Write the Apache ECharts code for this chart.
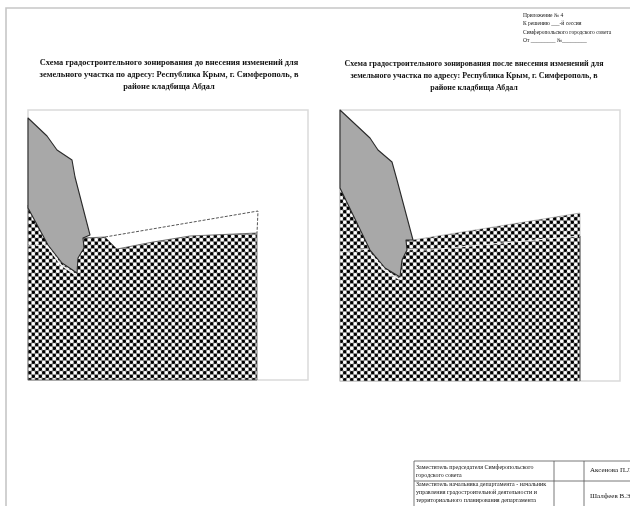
<!DOCTYPE html>
<html><head><meta charset="utf-8">
<style>html,body{margin:0;padding:0;background:#fff}#c{width:630px;height:506px;filter:blur(0.6px)}</style>
<script src="https://cdn.jsdelivr.net/npm/echarts@6/dist/echarts.min.js"></script>
</head><body><div id="c"></div>
<script>
// Outlines, in page pixels
const pageEdge = [[6,506],[6,8],[630,8]];
const leftFrame = [[28,110],[308,110],[308,380],[28,380]];
const leftZone = [[28,205],[28,380],[257,380],[257,233],[190,236],[153,242],[117,249],[105,237],[83,238],[70,240]];
const leftGrey = [[28,118],[47,136],[57,150],[72,160],[75,177],[90,235],[83,238],[84,248],[78,258],[77,273],[62,263],[48,245],[28,208]];
const leftHalo = [[48,247],[61,265],[76,275]];
const leftDash = [[105,237],[258,211],[257,233]];
const leftWhite = [[28,246],[50,245],[85,243]];
const rightFrame = [[340,110],[620,110],[620,381],[340,381]];
const rightZone = [[340,188],[340,381],[580,381],[580,213],[413,240],[380,240]];
const rightGrey = [[340,110],[370,138],[378,150],[392,162],[397,180],[413,240],[406,240],[407,250],[402,260],[400,277],[385,268],[370,250],[340,188]];
const rightHalo = [[370,253],[384,270],[399,279]];
const rightInner = [[340,252],[370,249],[430,250],[470,246],[580,236]];
const rightEdge = [[580,236],[580,381]];
const tableLines = [[[414,461],[630,461]],[[414,481],[630,481]],[[414,461],[414,506]],[[554,461],[554,506]],[[584,461],[584,506]]];

const titleLines = ['Схема градостроительного зонирования до внесения изменений для','земельного участка по адресу: Республика Крым, г. Симферополь, в','районе кладбища Абдал'];
const titleLines2 = ['Схема градостроительного зонирования после внесения изменений для','земельного участка по адресу: Республика Крым, г. Симферополь, в','районе кладбища Абдал'];
const noteLines = ['Приложение № 4','К решению ___-й сессии','Симферопольского городского совета','От _________ №_________'];
const tableText = ['Заместитель председателя Симферопольского','городского совета','Заместитель начальника департамента - начальник','управления градостроительной деятельности и','территориального планирования департамента'];
const tableNames = ['Аксенова П.Л.','Шалфеев В.Э.'];

function tile(){
  const c=document.createElement('canvas');c.width=7;c.height=7;
  const g=c.getContext('2d');g.fillStyle='#8c8c8c';g.fillRect(0,0,7,7);
  const dot=(x,y,col)=>{g.fillStyle=col;g.beginPath();g.arc(x,y,1.75,0,7);g.fill();};
  dot(1.75,1.75,'#000');dot(5.25,5.25,'#000');
  dot(5.25,1.75,'#fff');dot(1.75,5.25,'#fff');
  return c;
}
const pat={image:tile(),repeat:'repeat'};

function shape(pts,style,closed,z){
  return {type:'custom',coordinateSystem:'cartesian2d',silent:true,z:z,clip:false,
    data:pts,encode:{x:0,y:1},
    renderItem:(p,api)=>{
      if(p.dataIndex!==0) return null;
      const points=pts.map(q=>api.coord(q));
      return {type:closed?'polygon':'polyline',shape:{points},style:style};
    }};
}
const series=[
 shape(pageEdge,{fill:'none',stroke:'#c6c6c6',lineWidth:1.6},false,1),
 shape(leftFrame,{fill:'#fff',stroke:'#dadada',lineWidth:1.5},true,1),
 shape(rightFrame,{fill:'#fff',stroke:'#dadada',lineWidth:1.5},true,1),
 shape(leftZone,{fill:pat,stroke:'#666',lineWidth:0.9},true,2),
 shape(rightZone,{fill:pat,stroke:'#999',lineWidth:0.6},true,2),
 shape(rightEdge,{fill:'none',stroke:'#555',lineWidth:1},false,3),
 shape(leftHalo,{fill:'none',stroke:'#f2f2f2',lineWidth:1.6},false,3),
 shape(rightHalo,{fill:'none',stroke:'#f2f2f2',lineWidth:1.6},false,3),
 shape(leftWhite,{fill:'none',stroke:'#eee',lineWidth:1,lineDash:[6,2]},false,3),
 shape(rightInner,{fill:'none',stroke:'#eee',lineWidth:1,lineDash:[14,2]},false,3),
 shape(leftDash,{fill:'none',stroke:'#555',lineWidth:1,lineDash:[3,1.5]},false,3),
 shape(leftGrey,{fill:'#a8a8a8',stroke:'#2a2a2a',lineWidth:1.1,lineJoin:'round'},true,4),
 shape(rightGrey,{fill:'#a8a8a8',stroke:'#2a2a2a',lineWidth:1.1,lineJoin:'round'},true,4)
];
tableLines.forEach(l=>series.push(shape(l,{fill:'none',stroke:'#555',lineWidth:0.8},false,5)));

const serif='"Liberation Serif",serif';
const text=[];
const put=(s,x,y,size,bold,align)=>text.push({type:'text',x:x,y:y,z:10,silent:true,style:{text:s,fontFamily:serif,fontSize:size,fontWeight:bold?'bold':'normal',fill:'#111',align:align||'left',verticalAlign:'middle'}});
titleLines.forEach((s,i)=>put(s,169,63+i*12,8.4,true,'center'));
titleLines2.forEach((s,i)=>put(s,474,64+i*12,8.0,true,'center'));
noteLines.forEach((s,i)=>put(s,523,15.5+i*8.5,5.5,false));
tableText.forEach((s,i)=>put(s,416,[467,475,484,492,500][i],6,false));
put(tableNames[0],590,470,7,false);put(tableNames[1],590,496,7,false);

echarts.init(document.getElementById('c')).setOption({
  animation:false,
  grid:{left:0,right:0,top:0,bottom:0},
  xAxis:{type:'value',min:0,max:630,show:false},
  yAxis:{type:'value',min:0,max:506,inverse:true,show:false},
  series:series,
  graphic:text
});
</script></body></html>
